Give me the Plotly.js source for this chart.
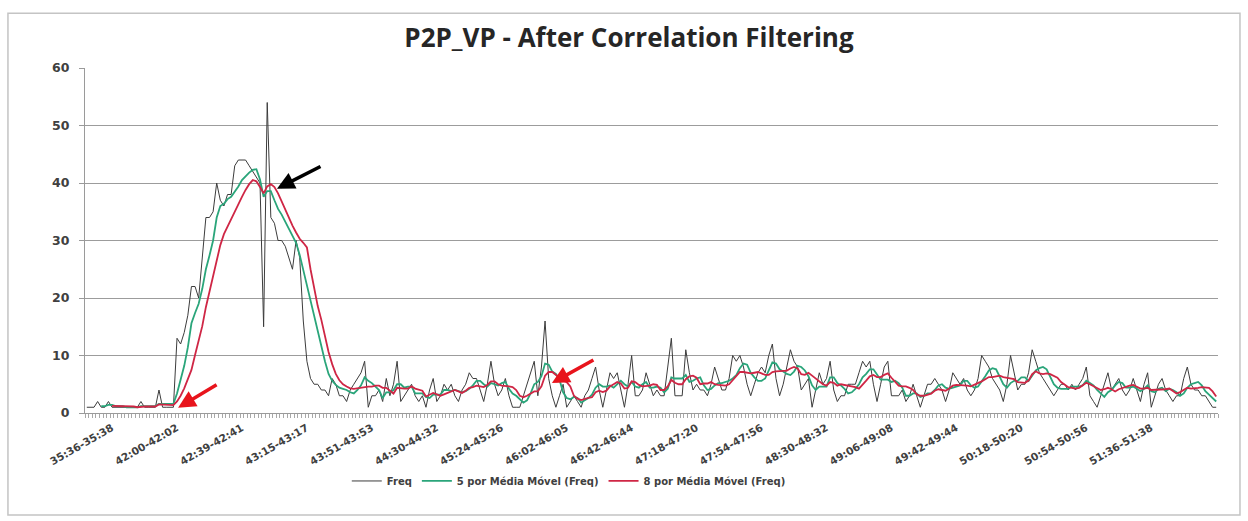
<!DOCTYPE html>
<html>
<head>
<meta charset="utf-8">
<script src="https://cdn.plot.ly/plotly-3.0.1.min.js"></script>
<style>html,body{margin:0;padding:0;background:#fff;}#chart{width:1248px;height:521px;}</style>
</head>
<body>
<div id="chart"></div>
<script>
// Tick labels (every 18th 2-second window)
const tickLabels = ["35:36-35:38","42:00-42:02","42:39-42:41","43:15-43:17","43:51-43:53","44:30-44:32","45:24-45:26","46:02-46:05","46:42-46:44","47:18-47:20","47:54-47:56","48:30-48:32","49:06-49:08","49:42-49:44","50:18-50:20","50:54-50:56","51:36-51:38"];
const labelStep = 18;

// Freq (count per window)
const freq = [
1,1,1,2,1,1,2,1,1,1, 1,1,1,1,1,2,1,1,1,1,
4,1,1,1,1,13,12,14,17,22, 22,20,27,34,34,35,40,37,36,38,
38,43,44,44,44,43,42,41,40,15, 54,34,33,30,30,29,27,25,30,27,
16,9,6,5,5,4,4,3,6,5, 3,3,2,4,5,6,7,9,1,3,
3,4,2,6,3,5,9,2,3,4, 5,3,2,3,1,4,6,2,3,5,
4,5,3,2,4,5,7,6,6,4, 2,5,9,5,3,4,6,3,1,1,
1,3,5,7,9,3,8,16,6,3, 1,3,5,1,2,3,2,1,3,4,
6,8,4,1,4,7,6,7,4,1, 5,10,3,3,4,7,5,3,4,3,
3,8,13,3,3,3,11,7,4,5, 4,4,3,5,8,6,4,4,6,10,
9,10,8,5,3,5,7,8,7,10, 12,6,3,5,8,11,9,8,4,5,
6,1,4,7,5,6,9,4,2,3, 3,5,5,5,7,9,8,9,5,2,
5,8,9,3,3,3,4,2,3,5, 3,1,3,5,5,6,5,4,2,4,
7,6,5,6,4,3,4,6,10,9, 8,6,5,4,2,5,10,7,4,5,
5,7,11,9,7,6,5,4,3,4, 5,5,4,5,4,5,6,8,3,2,
1,3,5,7,4,5,6,4,3,4, 6,4,2,5,7,1,3,5,6,4,
3,2,3,3,6,8,5,4,4,3, 3,2,1,1
];

// "5 por Média Móvel (Freq)" values
const ma5 = [
null,null,null,null,1.2,1.2,1.4,1.4,1.2,1.2, 1.2,1,1,1,1,1.2,1.2,1.2,1.2,1.2,
1.6,1.6,1.6,1.6,1.6,3.4,5.6,8.2,11.4,15.6, 17.4,19,21.6,25,27.4,30,34,36,36.4,37.2,
37.6,38.4,39.4,40.5,41.2,41.8,42.3,42.4,40.6,37.6, 38.6,38.6,37,35.5,34.5,33.3,32,30.8,29.6,27.5,
24.8,22,19.5,17,14,11.5,9,6.8,5.6,4.9, 4.4,4.2,4,3.6,3.4,4,4.8,6.2,5.6,5.2,
4.6,4,2.6,3.6,3.6,4,5,5,4.4,4.6, 4.6,3.4,3.4,3.4,2.8,2.6,3.2,3.2,3.2,4,
4,3.8,4,3.8,3.6,3.8,4.2,4.8,5.6,5.6, 5,4.6,5.2,5,4.8,5.2,5.4,4.2,3.4,3,
2.4,1.8,2.2,3.4,5,5.4,6.4,8.6,8.4,7.2, 6.8,5.8,3.6,2.6,2.4,2.8,2.6,1.8,2.2,2.6,
3.2,4.4,5,4.6,4.6,4.8,4.4,5,5.6,5, 4.6,5.4,4.6,4.4,5,5.4,4.4,4.4,4.6,4.4,
3.6,4.2,6.2,6,6,6,6.6,5.4,5.6,6, 6.2,4.8,4,4.2,4.8,5.2,5.2,5.4,5.6,6,
6.6,7.8,8.6,8.4,7,6.2,5.6,5.6,6,7.4, 8.8,8.6,7.6,7.2,6.8,6.6,7.2,8.2,8,7.4,
6.4,4.8,4,4.6,4.6,4.6,6.2,6.2,5.2,4.8, 4.2,3.4,3.6,4.2,5,6.2,6.8,7.6,7.6,6.6,
5.8,5.8,5.8,5.4,5.6,5.2,4.4,3,3,3.4, 3.4,2.8,3,3.4,3.4,4,4.8,5,4.4,4.2,
4.4,4.6,4.8,5.6,5.6,4.8,4.4,4.6,5.4,6.4, 7.4,7.8,7.6,6.4,5,4.4,5.2,5.6,5.6,6.2,
6.2,5.6,6.4,7.4,7.8,8,7.6,6.2,5,4.4, 4.2,4.2,4.2,4.6,4.6,4.6,4.8,5.6,5.2,4.8,
4,3.4,2.8,3.6,4,4.8,5.4,5.2,4.4,4.4, 4.6,4.2,3.8,4.2,4.8,3.8,3.6,4.2,4.4,3.8,
4.2,4,3.6,3,3.4,4.4,5,5.2,5.4,4.8, 3.8,3.2,2.6,2
];

// "8 por Média Móvel (Freq)" values
const ma8 = [
null,null,null,null,null,null,null,1.25,1.25,1.25, 1.25,1.13,1.13,1.13,1,1.13,1.13,1.13,1.13,1.13,
1.5,1.5,1.5,1.38,1.38,2.0,3.0,4.3,5.9,7.5, 10.1,12.8,15.1,18.4,21,23.7,26.4,29.2,31.1,32.4,
33.8,35.1,36.5,37.6,38.8,39.8,40.5,40.3,39.3,38.2, 39.4,39.8,39.3,38.2,36.8,35.3,33.8,32.6,31.4,30.3,
29.6,28.8,25,21.5,18.6,16.2,13.2,10.6,8.5,6.8, 5.7,5.0,4.6,4.3,4.2,4.3,4.4,4.6,4.6,4.6,
4.75,4.75,4.38,4.38,3.88,3.38,4.38,4.25,4.25,4.25, 4.63,4.25,4.13,3.88,2.88,3.13,3.5,3.25,3,3.25,
3.5,3.75,4,3.75,3.5,3.88,4.38,4.5,4.75,4.63, 4.5,4.88,5.5,5.5,5,4.75,4.75,4.63,4.5,4,
3,2.75,3,3.38,3.75,3.75,4.63,6.5,7.13,7.13, 6.63,6.13,5.63,5.38,4.63,3,2.5,2.25,2.5,2.63,
2.75,3.63,3.88,3.63,3.88,4.63,5,5.38,5.13,4.25, 4.38,5.5,5.38,4.88,4.63,4.63,4.75,5,4.88,4,
4,4.63,5.75,5.25,5,5,5.88,6.38,6.5,6.13, 5,5.13,5.13,5.38,5,4.88,4.88,4.75,5,5.75,
6.5,7.13,7.13,7,6.88,7,7.13,6.88,6.63,6.63, 7.13,7.25,7.25,7.25,7.38,7.75,8,7.75,6.75,6.63,
7,6.5,6,5.5,5,4.75,5.38,5.25,4.75,5, 4.88,4.63,4.63,4.5,4.25,4.88,5.63,6.38,6.63,6.25,
6.25,6.63,6.88,6.13,5.5,4.75,4.63,4.63,4.38,4, 3.25,3,3,3.25,3.38,3.88,4.13,4,3.88,4.25,
4.75,4.88,4.88,4.88,4.75,4.63,4.88,5.13,5.5,5.88, 6.25,6.25,6.38,6.5,6.25,6.13,6.13,5.88,5.38,5.25,
5.25,5.63,6.75,7.25,6.88,6.75,6.88,6.75,6.5,6.13, 5.38,4.88,4.5,4.38,4.25,4.38,4.75,5.25,5,4.63,
4.25,4,4.13,4.38,4.13,3.75,4.13,4.38,4.63,4.75, 4.88,4.5,4.25,4.25,4.38,4,4,4.13,4.13,4.13,
4.25,3.88,3.38,3.63,4,4.38,4.25,4.25,4.38,4.5, 4.5,4.38,3.75,2.88
];

// Arrow annotations: [category index, value, tail dx px, tail dy px, colour]
const arrows = [
  [25.3, 0.9, 40, -24, "#e8141c"],
  [52.7, 39.0, 45, -23, "#000000"],
  [128.9, 5.2, 43, -24, "#e8141c"]
];

const idx = freq.map((_, i) => i);
const tickVals = tickLabels.map((_, k) => k * labelStep);

const wide = "'DejaVu Sans', Verdana, sans-serif";
const titleFont = "'Open Sans', Lato, sans-serif";
const traces = [
  {x: idx, y: freq, type: "scatter", mode: "lines", name: "Freq",
   line: {color: "#3c3c3c", width: 1}},
  {x: idx, y: ma5, type: "scatter", mode: "lines", name: "5 por Média Móvel (Freq)",
   line: {color: "#2aa57a", width: 1.8}},
  {x: idx, y: ma8, type: "scatter", mode: "lines", name: "8 por Média Móvel (Freq)",
   line: {color: "#cf2645", width: 1.8}}
];

const layout = {
  width: 1248, height: 521,
  margin: {l: 85, r: 30, t: 68, b: 108},
  paper_bgcolor: "#ffffff", plot_bgcolor: "#ffffff",
  font: {family: wide, color: "#404040"},
  title: {text: "P2P_VP - After Correlation Filtering", x: 0.504, xanchor: "center", y: 0.927, yanchor: "middle",
          font: {family: titleFont, size: 26, weight: "bold", color: "#262626"}},
  showlegend: true,
  legend: {orientation: "h", x: 0.427, xanchor: "center", y: -0.197, yanchor: "middle", bgcolor: "rgba(0,0,0,0)",
           font: {family: wide, size: 10, weight: "bold", color: "#404040"}, itemwidth: 30, tracegroupgap: 0},
  xaxis: {range: [-0.5, freq.length - 0.5], tickmode: "array", tickvals: tickVals, ticktext: tickLabels,
          tickangle: -30, tickfont: {family: wide, size: 10.5, weight: "bold", color: "#404040"},
          ticks: "", showgrid: false, zeroline: false, showline: true, linecolor: "#9a9a9a", linewidth: 1,
          ticklabelshift: 25, ticklabelstandoff: 4,
          minor: {tickmode: "linear", tick0: -0.5, dtick: 1, ticks: "outside", ticklen: 4, tickcolor: "#a8a8a8", tickwidth: 1, showgrid: false}},
  yaxis: {range: [0, 60], dtick: 10, tick0: 0, showgrid: true, gridcolor: "#9c9c9c", gridwidth: 1,
          zeroline: false, showline: true, linecolor: "#9a9a9a", linewidth: 1,
          ticks: "outside", ticklen: 5, tickcolor: "#9a9a9a", ticklabelstandoff: 7,
          tickfont: {family: wide, size: 12.5, weight: "bold", color: "#404040"}},
  shapes: [{type: "rect", xref: "paper", yref: "paper", x0: -0.068, x1: 1.0194, y0: -0.2957, y1: 1.159,
            line: {color: "#c4c4c4", width: 1.5}, fillcolor: "rgba(0,0,0,0)", layer: "below"}],
  annotations: arrows.map(a => ({x: a[0], y: a[1], xref: "x", yref: "y", text: "", showarrow: true,
    ax: a[2], ay: a[3], arrowcolor: a[4], arrowwidth: 3.5, arrowhead: 2, arrowsize: 1, standoff: 0}))
};

Plotly.newPlot("chart", traces, layout, {displayModeBar: false, staticPlot: true});
</script>
</body>
</html>
